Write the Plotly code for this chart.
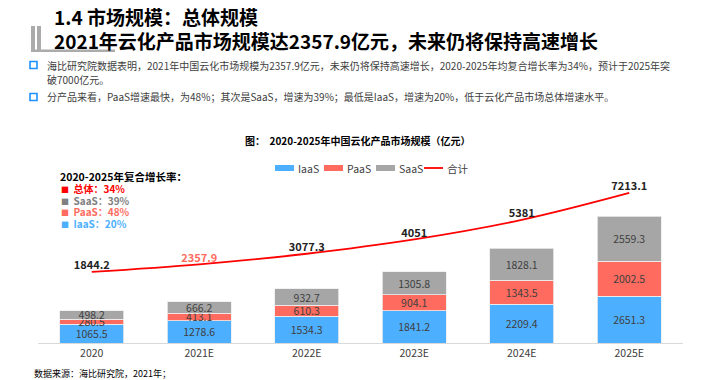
import plotly.graph_objects as go

categories = ["2020", "2021E", "2022E", "2023E", "2024E", "2025E"]
iaas = [1065.5, 1278.6, 1534.3, 1841.2, 2209.4, 2651.3]
paas = [280.5, 413.1, 610.3, 904.1, 1343.5, 2002.5]
saas = [498.2, 666.2, 932.7, 1305.8, 1828.1, 2559.3]
total = [1844.2, 2357.9, 3077.3, 4051, 5381, 7213.1]
total_labels = ["1844.2", "2357.9", "3077.3", "4051", "5381", "7213.1"]
series_names = ["IaaS", "PaaS", "SaaS", "合计"]

cagr_names = ["总体", "SaaS", "PaaS", "IaaS"]
cagr_values = ["34%", "39%", "48%", "20%"]

C_IAAS = "#4DAFFF"
C_PAAS = "#FF6B5E"
C_SAAS = "#A6A6A6"
C_LINE = "#FF0000"
C_TXT = "#404040"
FONT = "Noto Sans CJK SC"

W, H = 719, 380
ML, MR, MT, MB = 38, 36, 150, 37
PW, PH = W - ML - MR, H - MT - MB


def px(x):
    return (x - ML) / PW


def py(y):
    return (H - MB - y) / PH


fig = go.Figure()
bar_cols = [C_IAAS, C_PAAS, C_SAAS]
for name, vals, col in zip(series_names[:3], [iaas, paas, saas], bar_cols):
    fig.add_trace(go.Bar(
        x=categories, y=vals, name=name,
        marker=dict(color=col, line=dict(color="#EDEDED", width=0.8)),
        text=[f"{v:.1f}" for v in vals], textposition="inside",
        insidetextanchor="middle", constraintext="none",
        textfont=dict(family=FONT, size=10.5, color=C_TXT),
        hoverinfo="skip", showlegend=False,
    ))

fig.add_trace(go.Scatter(
    x=categories, y=total, name=series_names[3], yaxis="y2",
    mode="lines+text", line=dict(color=C_LINE, width=1.8, shape="spline"),
    text=[f"<b>{t}</b>" for t in total_labels], textposition="top center",
    textfont=dict(family=FONT, size=11,
                  color=["#222222", C_PAAS, "#222222", "#222222", "#222222", "#222222"]),
    hoverinfo="skip", showlegend=False,
))

fig.update_layout(
    width=W, height=H,
    margin=dict(l=ML, r=MR, t=MT, b=MB),
    paper_bgcolor="white", plot_bgcolor="white",
    barmode="stack", bargap=0.405,
    font=dict(family=FONT, color=C_TXT),
    showlegend=False,
    xaxis=dict(showline=True, linecolor="#D9D9D9", linewidth=1, ticks="",
               tickfont=dict(size=10.5, color=C_TXT), showgrid=False, fixedrange=True),
    yaxis=dict(range=[0, PH / 0.0176], visible=False, showgrid=False, fixedrange=True),
    yaxis2=dict(range=[-44 / 0.0147, -44 / 0.0147 + PH / 0.0147], overlaying="y",
                visible=False, showgrid=False, fixedrange=True),
)

ann = []


def add_text(x, y, text, size, color="#000000", anchor="left"):
    ann.append(dict(x=px(x), y=py(y), xref="paper", yref="paper", text=text,
                    showarrow=False, xanchor=anchor, yanchor="middle",
                    font=dict(family=FONT, size=size, color=color)))


add_text(52, 16, "<b>1.4 市场规模：总体规模</b>", 19)
add_text(52, 40, "<b>2021年云化产品市场规模达2357.9亿元，未来仍将保持高速增长</b>", 19)
add_text(45, 65, "海比研究院数据表明，2021年中国云化市场规模为2357.9亿元，未来仍将保持高速增长，2020-2025年均复合增长率为34%，预计于2025年突", 10, C_TXT)
add_text(45, 79, "破7000亿元。", 10, C_TXT)
add_text(45, 97, "分产品来看，PaaS增速最快，为48%；其次是SaaS，增速为39%；最低是IaaS，增速为20%，低于云化产品市场总体增速水平。", 10, C_TXT)
add_text(357, 140, "<b>图：  2020-2025年中国云化产品市场规模（亿元）</b>", 10, "#000000", "center")
add_text(58, 176, "<b>2020-2025年复合增长率：</b>", 10.5, "#000000")
cagr_cols = [C_LINE, "#808080", C_PAAS, C_IAAS]
for i, (n, v, c) in enumerate(zip(cagr_names, cagr_values, cagr_cols)):
    add_text(59, 188.5 + i * 11.7,
             f"<span style='font-size:8px'>■</span>  <b>{n}：{v}</b>", 10, c)
add_text(32, 373, "数据来源：海比研究院，2021年；", 9, "#000000")

# custom legend (swatch x-start, text)
shapes = []
leg_x = [275, 324, 376, 424]
leg_y = 168
for i, (x0, name) in enumerate(zip(leg_x, series_names)):
    if i < 3:
        shapes.append(dict(type="rect", xref="paper", yref="paper",
                           x0=px(x0), x1=px(x0 + 19), y0=py(leg_y + 3), y1=py(leg_y - 3),
                           fillcolor=bar_cols[i], line=dict(width=0)))
    else:
        shapes.append(dict(type="line", xref="paper", yref="paper",
                           x0=px(x0), x1=px(x0 + 19), y0=py(leg_y), y1=py(leg_y),
                           line=dict(color=C_LINE, width=1.8)))
    add_text(x0 + 20.5, leg_y, name, 10.5, C_TXT)

fig.update_layout(annotations=ann)

for (x0, y0, x1, y1) in [(31, 26, 35, 52), (37, 26, 41, 50), (31, 49.5, 115, 52)]:
    shapes.append(dict(type="rect", xref="paper", yref="paper",
                       x0=px(x0), x1=px(x1), y0=py(y1), y1=py(y0),
                       fillcolor="#ABABAB", line=dict(width=0), layer="below"))
for yb in [65, 97]:
    shapes.append(dict(type="rect", xref="paper", yref="paper",
                       x0=px(30), x1=px(37), y0=py(yb + 3.5), y1=py(yb - 3.5),
                       fillcolor="white", line=dict(color="#1E90FF", width=1.6)))
fig.update_layout(shapes=shapes)

fig.write_html("out.html", config={"displayModeBar": False},
               post_script="document.body.style.margin='0';")
